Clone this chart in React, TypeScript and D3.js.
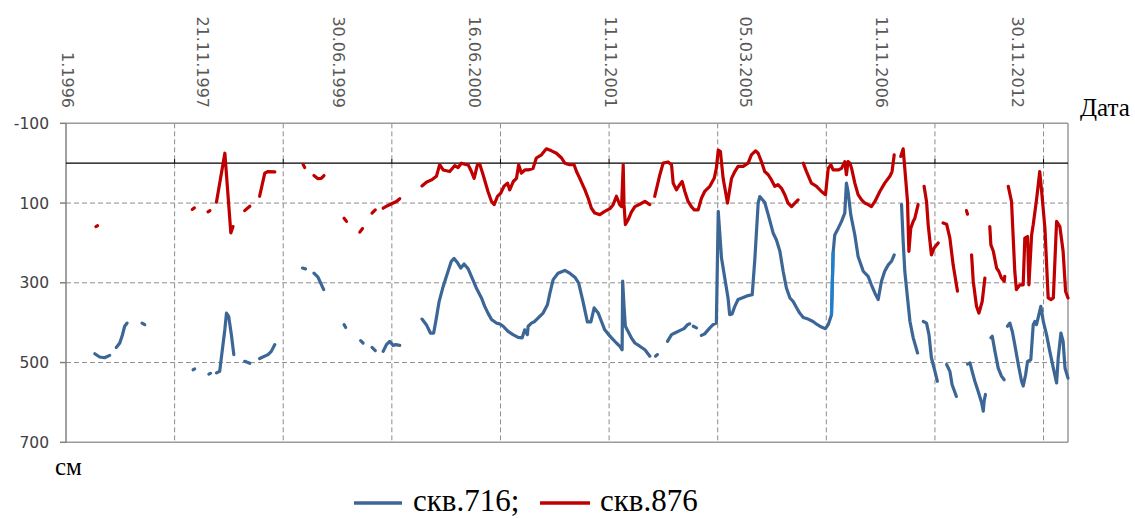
import React from "react";
import * as d3 from "d3";

// category axis: 369 dated observations, labels every 50, tick marks every 40
const categoryCount = 369;
const dateLabels = ["1.1996", "21.11.1997", "30.06.1999", "16.06.2000", "11.11.2001", "05.03.2005", "11.11.2006", "30.11.2012"];
const dateLabelIndex = [0, 50, 100, 150, 200, 250, 300, 350];
const gridIndex = [40, 80, 120, 160, 200, 240, 280, 320, 360];
const yTicks = [-100, 100, 300, 500, 700];
const yGrid = [100, 300, 500];

// скв.876 — segments of [category index, depth cm]
const well876: number[][][] = [
  [[11.0, 159], [11.6, 157]],
  [[46.5, 116], [47.3, 112]],
  [[52.3, 122], [53.0, 119]],
  [[55.4, 98], [58.5, -25], [60.7, 175], [61.5, 159]],
  [[65.8, 119], [67.7, 108]],
  [[71.3, 83], [73.2, 25], [74.4, 21], [76.9, 22]],
  [[87.3, 3], [87.9, 11]],
  [[91.3, 31], [92.8, 39], [94.0, 38], [95.0, 31]],
  [[102.4, 138], [103.3, 146]],
  [[108.2, 173], [109.2, 164]],
  [[112.7, 125], [113.9, 117]],
  [[116.8, 113], [118.6, 106], [120.5, 100], [121.7, 96], [122.9, 89]],
  [[131.1, 57], [132.7, 48], [134.6, 42], [136.4, 33], [137.6, 4], [138.9, 17], [141.3, 21], [143.2, 6], [144.4, 11], [145.6, 0], [147.5, 4], [148.1, 4], [149.3, 21], [150.3, 38], [151.5, 4], [152.4, 3], [153.6, 29], [155.4, 71], [156.7, 96], [157.7, 104], [158.9, 83], [160.1, 75], [161.3, 58], [162.6, 50], [163.4, 67], [164.7, 46], [165.9, 38], [166.7, 4], [167.7, 25], [169, 17], [170.2, 17], [172, 13], [173.2, -13], [175.1, -21], [176.9, -36], [178.8, -31], [180.6, -25], [182.5, -13], [183.7, 0], [185.5, 4], [187.1, 4], [188, 21], [189.2, 38], [191.1, 67], [192.3, 88], [193.5, 113], [194.7, 125], [196.6, 129], [198.4, 121], [200.3, 114], [201.5, 104], [202.7, 83], [203.9, 104], [204.6, 109], [205.2, 4], [205.5, 104], [206, 154], [207, 142], [208.2, 123], [209.5, 109], [211.3, 103], [213.2, 96], [215, 104]],
  [[216.8, 83], [218.7, 29], [219.9, 0], [221.7, -3], [223, 4], [223.6, 50], [224.8, 67], [226, 54], [226.9, 46], [227.9, 71], [229.1, 96], [230.3, 109], [231.3, 117], [232.8, 117], [234, 88], [235.2, 71], [237.1, 58], [238.7, 38], [239.5, 13], [240.2, -33], [241, -29], [242, 38], [243.6, 100], [245.1, 38], [246.3, 21], [247.5, 8], [249.4, 8], [251.2, 0], [252.4, -21], [253.9, -31], [254.9, -25], [256.1, -4], [257.3, 21], [258.6, 29], [259.8, 42], [261, 58], [262.2, 54], [263.5, 63], [264.7, 79], [265.9, 100], [267.2, 109], [268.4, 100], [269.6, 92]],
  [[271.5, 0], [272.7, 21], [274.5, 50], [276.4, 58], [278.2, 71], [279.7, 79], [280.7, 13], [281.7, 4], [282.5, 17], [284.4, 17], [285.6, 13], [286.8, -4], [287.4, 29], [288, -4], [288.7, 0], [289.3, 13], [290.5, 50], [291.7, 79], [293, 92], [294.2, 100], [295.4, 104], [296.6, 109], [297.9, 96], [299.7, 71], [301.5, 50], [303.4, 33], [304.2, 21], [305, -21]],
  [[307.4, -17], [308.3, -36], [309.2, 38], [309.9, 96], [310.4, 221], [311.1, 163], [312, 146], [312.6, 138], [313.2, 121], [313.8, 104]],
  [[316, 58], [316.9, 96], [317.5, 154], [318.7, 230], [319.7, 213], [321.2, 200]],
  [[323, 150], [324.3, 153], [325.5, 188], [326.7, 255], [328.3, 321]],
  [[331.6, 119], [332, 128]],
  [[333.5, 230], [334.1, 296], [335.3, 359], [336.2, 376], [337.4, 347], [338.4, 288]],
  [[340.2, 159], [340.6, 205], [341.5, 221], [342.7, 263], [343.5, 271], [344.5, 288], [345.5, 296], [345.7, 284]],
  [[347, 58], [348.2, 96], [349.4, 271], [350, 317], [351.3, 305], [352.5, 305], [353.1, 188], [354.1, 184], [354.6, 305], [355.6, 180], [356.2, 154], [357.4, 92], [358.6, 21], [359.3, 71], [360.5, 163], [361.7, 338], [362.7, 342], [363.6, 338], [364.8, 146], [366, 159], [367.2, 221], [368.1, 321], [369, 338]],
];

// скв.716 — segments of [category index, depth cm]
const well716: number[][][] = [
  [[10.6, 478], [12.4, 486], [14.2, 488], [16.1, 482]],
  [[18.5, 462], [19.8, 451], [20.8, 430], [21.6, 409], [22.5, 401]],
  [[28, 401], [29, 405]],
  [[46.8, 518], [47.4, 516]],
  [[52.6, 529], [53.2, 527]],
  [[55.4, 526], [56.6, 522], [57.5, 472], [58.5, 417], [59.1, 376], [59.9, 384], [60.9, 430], [61.8, 480]],
  [[65.8, 497], [67.7, 502]],
  [[71.3, 490], [74.4, 480], [75.6, 472], [76.9, 455]],
  [[87.1, 263], [88.2, 265]],
  [[91.3, 276], [92.8, 286], [93.8, 301], [94.9, 317]],
  [[102.4, 405], [103, 412]],
  [[108.5, 445], [109.4, 451]],
  [[112.7, 462], [113.9, 470]],
  [[116.8, 472], [118, 455], [119.2, 447], [120.5, 457], [121.4, 455], [122.9, 457]],
  [[131.1, 391], [132.7, 405], [134.2, 426], [135.4, 426], [136.4, 388], [137.4, 347], [138.9, 309], [140.7, 271], [141.9, 246], [142.9, 239], [144.2, 250], [145.4, 263], [146.6, 253], [148.1, 265], [149.3, 284], [151.1, 313], [153, 338], [154.2, 359], [155.4, 376], [156.7, 392], [158.5, 401], [159.7, 403], [161, 409], [162.8, 422], [164.6, 430], [166.5, 437], [168, 438], [168.9, 418], [169.9, 430], [170.2, 409], [171.4, 401], [172.6, 397], [173.9, 388], [175.7, 376], [177.3, 355], [178.2, 326], [179.4, 292], [181.2, 276], [183.7, 269], [185.5, 276], [187.4, 286], [188.8, 301], [190.4, 347], [192, 398], [193.3, 398], [194.5, 363], [196, 376], [197.2, 397], [198.4, 418], [199.6, 428], [200.9, 438], [202.7, 451], [203.9, 459], [204.8, 468], [205, 296], [205.5, 359], [206, 409], [207, 422], [208.2, 438], [209.5, 451], [211.3, 459], [213.2, 468], [215, 484]],
  [[217.1, 484], [217.8, 480]],
  [[221.5, 447], [223, 430], [224.2, 426], [226, 420], [227.6, 415], [228.9, 405], [229.7, 403]],
  [[231, 409], [232.2, 413]],
  [[234, 432], [235.2, 428], [237.1, 413], [238.3, 405], [239.5, 401], [240.2, 121], [241.4, 238], [242.6, 288], [243.8, 338], [244.4, 380], [245.3, 378], [246.3, 359], [247.5, 342], [249.4, 337], [251.2, 332], [252.7, 330], [253.7, 238], [254.9, 100], [255.5, 84], [257.3, 98], [258.6, 129], [260.4, 175], [261.6, 192], [262.9, 221], [264.1, 271], [265.3, 313], [266.6, 338], [267.8, 347], [269, 362], [270.2, 376], [271.5, 387], [273.3, 391], [275.1, 397], [276.7, 405], [278.2, 411], [279.7, 415], [280.7, 405], [281.9, 380], [282.5, 225], [283.1, 180], [284.4, 163], [285.6, 146], [286.8, 125], [287.4, 50], [288, 71], [289, 129], [290.5, 180], [291.7, 234], [293.6, 271], [295.4, 284], [296.6, 305], [297.9, 326], [299.1, 342], [300.3, 296], [301.5, 271], [302.8, 255], [304, 246], [305, 230]],
  [[307.7, 104], [308.3, 196], [308.9, 271], [309.9, 338], [310.8, 397], [312, 438], [313.6, 476]],
  [[315.7, 397], [316.9, 401], [317.8, 430], [318.7, 488], [320, 522], [320.9, 547]],
  [[324.3, 505], [325.5, 522], [326.3, 555], [327.9, 585]],
  [[332, 504], [332.9, 501], [333.7, 522], [334.7, 547], [335.9, 572], [337.2, 601], [337.8, 622], [338.1, 597], [338.6, 580]],
  [[340.6, 438], [341.1, 434], [342.1, 472], [343.3, 514], [344.5, 534], [345.5, 543]],
  [[346.7, 409], [347.6, 401], [348.5, 422], [349.4, 455], [350.7, 505], [351.9, 547], [352.5, 559], [353.4, 530], [354.1, 497], [355.3, 493], [356.2, 405], [356.8, 397], [357.4, 405], [358, 388], [359, 359], [359.9, 397], [361.1, 430], [362.3, 472], [363.6, 514], [364.8, 551], [365.4, 488], [366.4, 426], [367.2, 447], [367.9, 514], [369, 539]],
];
// one highlighted (lighter) link in скв.716
const well716Highlight: number[][] = [[281.9, 380], [282.5, 225]];

const BLUE = "#3b6696";
const RED = "#c00000";
const LIGHT_BLUE = "#1e7fcf";

export default function App() {
  const W = 1135, H = 519;
  const left = 66, right = 1068, top = 123.3, bottom = 442.3;
  const x = d3.scaleLinear().domain([0, categoryCount]).range([left, right]);
  const y = d3.scaleLinear().domain([-100, 700]).range([top, bottom]);
  const line = d3.line<number[]>().x((d) => x(d[0])).y((d) => y(d[1]));
  const sans = "'DejaVu Sans', Verdana, sans-serif";
  const serif = "'Liberation Serif', 'Times New Roman', serif";

  return (
    <svg width={W} height={H} style={{ position: "absolute", left: 0, top: 0, background: "#fff" }}>
      {/* grid */}
      {yGrid.map((v) => (
        <line key={"gy" + v} x1={left} x2={right} y1={y(v)} y2={y(v)} stroke="#8c8c8c" strokeWidth={1} strokeDasharray="5,3" />
      ))}
      {gridIndex.map((i) => (
        <line key={"gx" + i} x1={x(i)} x2={x(i)} y1={top} y2={bottom} stroke="#8c8c8c" strokeWidth={1} strokeDasharray="5,3" />
      ))}
      {/* plot border */}
      <line x1={left} x2={right} y1={top} y2={top} stroke="#9a9a9a" strokeWidth={1.5} />
      <line x1={left} x2={right} y1={bottom} y2={bottom} stroke="#9a9a9a" strokeWidth={1.5} />
      <line x1={right} x2={right} y1={top} y2={bottom} stroke="#9a9a9a" strokeWidth={1.5} />
      <line x1={left} x2={left} y1={top} y2={bottom} stroke="#808080" strokeWidth={1.5} />
      {/* category axis at 0 */}
      <line x1={left} x2={right} y1={y(0)} y2={y(0)} stroke="#000" strokeWidth={1.3} />
      {gridIndex.map((i) => (
        <line key={"tx" + i} x1={x(i)} x2={x(i)} y1={y(0) - 4} y2={y(0)} stroke="#000" strokeWidth={1} />
      ))}
      {/* y ticks */}
      {yTicks.map((v) => (
        <g key={"yt" + v}>
          <line x1={left - 6} x2={left} y1={y(v)} y2={y(v)} stroke="#808080" strokeWidth={1.5} />
          <text x={49} y={y(v)} dy="0.36em" textAnchor="end" fontFamily={sans} fontSize={15.5} fill="#404040">
            {v}
          </text>
        </g>
      ))}
      {/* date labels */}
      {dateLabels.map((lab, k) => (
        <text
          key={lab}
          transform={`translate(${x(dateLabelIndex[k] + 0.5)},108) rotate(90)`}
          dy="0.36em"
          textAnchor="end"
          fontFamily={sans}
          fontSize={16}
          fill="#595959"
        >
          {lab}
        </text>
      ))}
      {/* series */}
      <g fill="none" strokeLinejoin="round" strokeLinecap="round" strokeWidth={3.2}>
        {well876.map((seg, i) => (
          <path key={"r" + i} d={line(seg) || ""} stroke={RED} />
        ))}
        {well716.map((seg, i) => (
          <path key={"b" + i} d={line(seg) || ""} stroke={BLUE} />
        ))}
        <path d={line(well716Highlight) || ""} stroke={LIGHT_BLUE} />
      </g>
      {/* axis titles */}
      <text x={1080} y={116} fontFamily={serif} fontSize={25} fill="#000">Дата</text>
      <text x={55} y={475} fontFamily={serif} fontSize={25} fill="#000">см</text>
      {/* legend */}
      <line x1={354} x2={402} y1={503} y2={503} stroke={BLUE} strokeWidth={3.5} />
      <text x={413} y={511} fontFamily={serif} fontSize={31} fill="#000">скв.716;</text>
      <line x1={540} x2={590} y1={503} y2={503} stroke={RED} strokeWidth={3.5} />
      <text x={600} y={511} fontFamily={serif} fontSize={31} fill="#000">скв.876</text>
    </svg>
  );
}
